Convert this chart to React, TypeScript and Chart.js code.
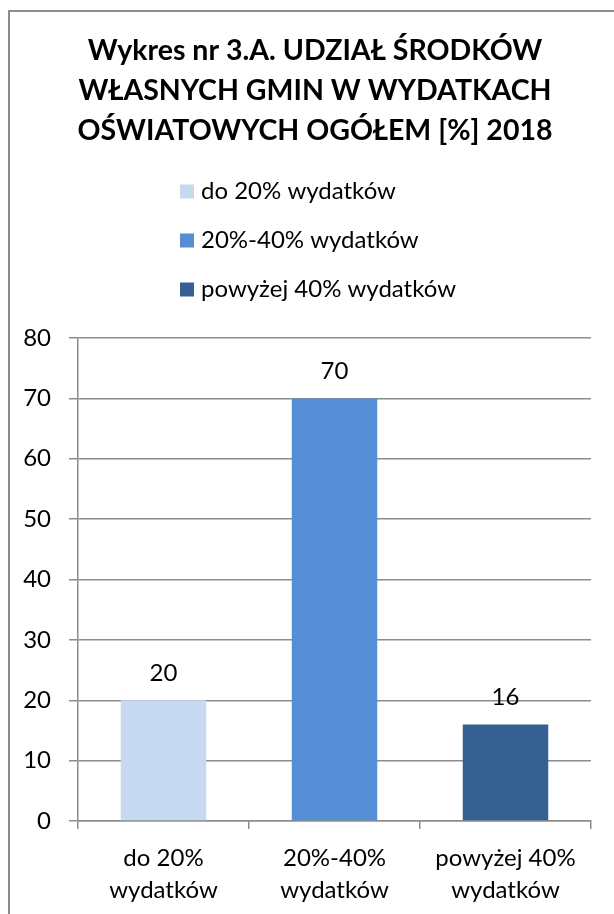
import React, { useEffect, useRef } from "react";
import { Chart, registerables } from "chart.js";

Chart.register(...registerables);

const titleLines = [
  "Wykres nr 3.A. UDZIAŁ ŚRODKÓW",
  "WŁASNYCH GMIN W WYDATKACH",
  "OŚWIATOWYCH OGÓŁEM [%] 2018",
];
const categories = ["do 20% wydatków", "20%-40% wydatków", "powyżej 40% wydatków"];
const xTickLabels = [
  ["do 20%", "wydatków"],
  ["20%-40%", "wydatków"],
  ["powyżej 40%", "wydatków"],
];
const values = [20, 70, 16];
const barColors = ["#c6d9f0", "#558ed5", "#376092"];
const yTicks = [0, 10, 20, 30, 40, 50, 60, 70, 80];

const FONT = "Lato, 'Open Sans', sans-serif";
const GRID = "#8c8c8c";
const TEXT_SIZE = 24;

const legendPlugin = {
  id: "stackedLegend",
  afterDraw(chart: any) {
    const ctx = chart.ctx;
    const colors = chart.data.datasets[0].backgroundColor;
    ctx.save();
    ctx.font = `${TEXT_SIZE}px ${FONT}`;
    ctx.textBaseline = "middle";
    ctx.textAlign = "left";
    const x0 = 170;
    const y0 = 179.5;
    const step = 49;
    categories.forEach((label, i) => {
      const cy = y0 + i * step;
      ctx.fillStyle = colors[i];
      ctx.fillRect(x0, cy - 7, 14, 14);
      ctx.fillStyle = "#000";
      ctx.fillText(label, x0 + 21, cy);
    });
    ctx.restore();
  },
};

const valueLabelPlugin = {
  id: "valueLabels",
  afterDatasetsDraw(chart: any) {
    const ctx = chart.ctx;
    const meta = chart.getDatasetMeta(0);
    ctx.save();
    ctx.font = `${TEXT_SIZE}px ${FONT}`;
    ctx.textBaseline = "middle";
    ctx.textAlign = "center";
    ctx.fillStyle = "#000";
    meta.data.forEach((bar: any, i: number) => {
      ctx.fillText(String(values[i]), bar.x, bar.y - 27);
    });
    ctx.restore();
  },
};

export default function App() {
  const ref = useRef<HTMLCanvasElement | null>(null);

  useEffect(() => {
    if (!ref.current) return;
    const chart = new Chart(ref.current, {
      type: "bar",
      data: {
        labels: xTickLabels,
        datasets: [
          {
            data: values,
            backgroundColor: barColors,
            borderWidth: 0,
            barPercentage: 0.5,
            categoryPercentage: 1,
          },
        ],
      },
      options: {
        responsive: false,
        animation: false,
        devicePixelRatio: 1,
        layout: { padding: 0 },
        plugins: {
          legend: { display: false },
          tooltip: { enabled: false },
          title: {
            display: true,
            text: titleLines,
            color: "#000",
            font: { family: FONT, size: 28.5, weight: "bold", lineHeight: 40 / 28.5 },
            padding: { top: 18.5, bottom: 187.5 },
          },
        },
        scales: {
          x: {
            afterFit: (scale: any) => {
              scale.height = 93;
            },
            grid: {
              display: true,
              drawOnChartArea: false,
              drawTicks: true,
              tickLength: 8,
              color: GRID,
              lineWidth: 1.5,
              offset: true,
            },
            border: { display: true, color: GRID, width: 1.5 },
            ticks: {
              color: "#000",
              font: { family: FONT, size: TEXT_SIZE, lineHeight: 32 / TEXT_SIZE },
              padding: 13,
              maxRotation: 0,
              autoSkip: false,
            },
          },
          y: {
            min: 0,
            max: 80,
            afterFit: (scale: any) => {
              scale.width = 68;
            },
            afterBuildTicks: (scale: any) => {
              scale.ticks = yTicks.map((v) => ({ value: v }));
            },
            grid: {
              color: GRID,
              lineWidth: 1.5,
              drawTicks: true,
              tickLength: 9,
            },
            border: { display: true, color: GRID, width: 1.5 },
            ticks: {
              color: "#000",
              font: { family: FONT, size: TEXT_SIZE },
              padding: 18,
            },
          },
          yRightSpace: {
            type: "linear",
            position: "right",
            display: true,
            min: 0,
            max: 80,
            afterFit: (scale: any) => {
              scale.width = 29;
            },
            grid: { display: false, drawTicks: false },
            border: { display: false },
            ticks: { display: false },
          },
        },
      },
      plugins: [legendPlugin, valueLabelPlugin],
    });
    return () => chart.destroy();
  }, []);

  return (
    <div
      style={{
        position: "fixed",
        left: 8,
        top: 10,
        borderLeft: `2px solid ${GRID}`,
        borderTop: `2px solid ${GRID}`,
        background: "#fff",
      }}
    >
      <canvas ref={ref} width={610} height={902} style={{ display: "block", width: 610, height: 902 }} />
    </div>
  );
}
